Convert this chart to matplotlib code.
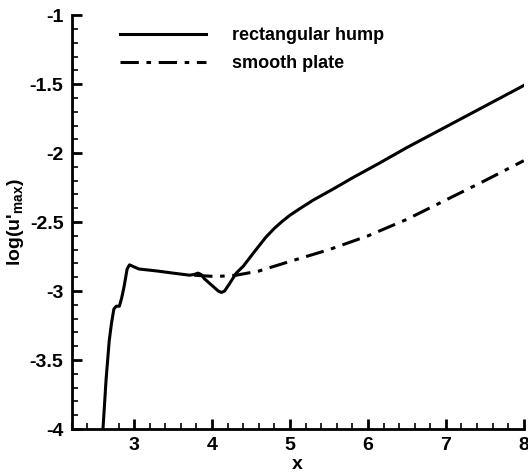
import matplotlib
matplotlib.use('Agg')
import matplotlib.pyplot as plt
import numpy as np

plt.rcParams['font.family'] = ['Liberation Sans', 'DejaVu Sans']
plt.rcParams['font.weight'] = 'bold'
plt.rcParams['axes.unicode_minus'] = False
plt.rcParams['mathtext.fontset'] = 'custom'
plt.rcParams['mathtext.rm'] = 'Liberation Sans:bold'
plt.rcParams['mathtext.it'] = 'Liberation Sans:bold'
plt.rcParams['mathtext.bf'] = 'Liberation Sans:bold'

# rectangular hump
hump_x = [2.60, 2.64, 2.68, 2.71, 2.74, 2.77, 2.81, 2.84, 2.87, 2.91, 2.94, 2.98, 3.06,
          3.3, 3.5, 3.71, 3.77, 3.82, 3.86, 3.90, 4.0, 4.08, 4.12, 4.16, 4.22, 4.31,
          4.4, 4.55, 4.69, 4.8, 4.9, 5.0, 5.12, 5.3, 5.54, 5.8, 6.14, 6.5, 7.0, 7.5, 8.0]
hump_y = [-4.0, -3.64, -3.36, -3.23, -3.13, -3.11, -3.11, -3.05, -2.97, -2.84, -2.81, -2.82, -2.84,
          -2.855, -2.87, -2.885, -2.88, -2.87, -2.88, -2.91, -2.96, -3.0, -3.01, -3.0, -2.95, -2.87,
          -2.82, -2.71, -2.61, -2.545, -2.495, -2.45, -2.405, -2.34, -2.265, -2.18, -2.075, -1.96, -1.81, -1.66, -1.51]

# smooth plate
plate_x = [3.77, 3.9, 4.0, 4.1, 4.31, 4.6, 5.0, 5.5, 6.0, 6.5, 7.0, 7.5, 8.0]
plate_y = [-2.885, -2.89, -2.893, -2.893, -2.885, -2.855, -2.785, -2.70, -2.60, -2.48, -2.34, -2.20, -2.055]

fig = plt.figure(figsize=(5.28, 4.73), dpi=100)
ax = fig.add_axes([0.136, 0.093, 0.856, 0.875])

ax.plot(hump_x, hump_y, color='black', lw=2.2, label='rectangular hump')
ax.plot(plate_x, plate_y, color='black', lw=2.2, linestyle=(0, (6, 2.5, 1.5, 2.5)),
        label='smooth plate')

ax.set_xlim(2.2, 8)
ax.set_ylim(-4, -1)
ax.set_xticks([3, 4, 5, 6, 7, 8])
ax.set_xticklabels(['3', '4', '5', '6', '7', '8'])
ax.set_yticks([-4, -3.5, -3, -2.5, -2, -1.5, -1])
ax.set_yticklabels(['-4', '-3.5', '-3', '-2.5', '-2', '-1.5', '-1'])
ax.set_xticks(np.arange(2.2, 8.01, 0.2), minor=True)
ax.set_yticks(np.arange(-4, -0.99, 0.1), minor=True)

for s in ['top', 'right']:
    ax.spines[s].set_visible(False)
for s in ['left', 'bottom']:
    ax.spines[s].set_linewidth(2.0)
ax.tick_params(which='major', direction='in', length=7, width=2, labelsize=14, pad=6)
ax.tick_params(which='minor', direction='in', length=4, width=1.2)

ax.set_xlabel('x', fontsize=14, fontweight='bold', labelpad=1)
ax.set_ylabel(r"log(u$'_{\mathbf{max}}$)", fontsize=14, fontweight='bold', labelpad=3)

ax.legend(loc='upper left', bbox_to_anchor=(0.07, 1.01), frameon=False, fontsize=13,
          handlelength=4.8, handletextpad=1.4, labelspacing=0.6)

fig.savefig('out.png', dpi=100)
